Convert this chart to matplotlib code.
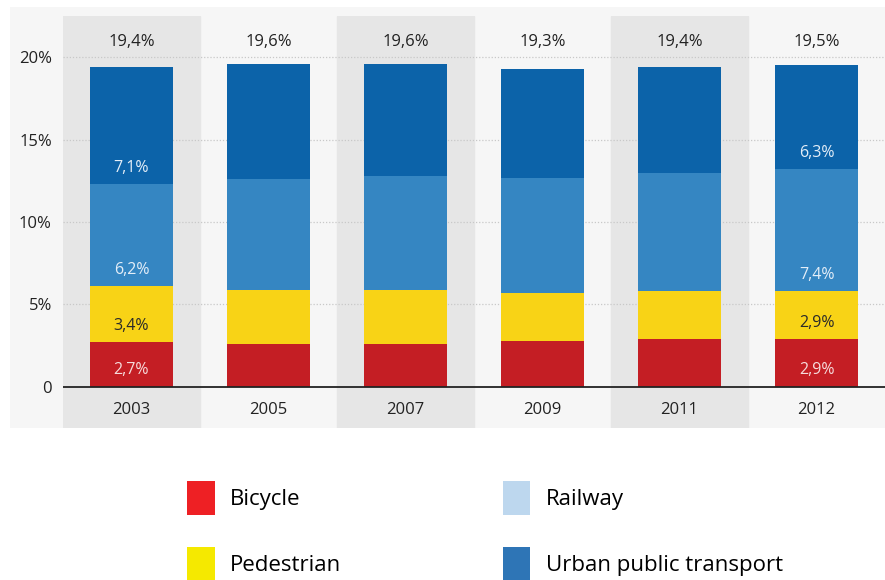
import numpy as np
import matplotlib.pyplot as plt
from matplotlib.patches import Patch, Rectangle

# data (share of trips, %)
years = ["2003", "2005", "2007", "2009", "2011", "2012"]
bicycle = [2.7, 2.6, 2.6, 2.8, 2.9, 2.9]
pedestrian = [3.4, 3.3, 3.3, 2.9, 2.9, 2.9]
railway = [6.2, 6.7, 6.9, 7.0, 7.2, 7.4]
urban = [7.1, 7.0, 6.8, 6.6, 6.4, 6.3]
totals = ["19,4%", "19,6%", "19,6%", "19,3%", "19,4%", "19,5%"]
yticks = [0, 5, 10, 15, 20]
ytick_labels = ["0", "5%", "10%", "15%", "20%"]
# segment labels only shown on first and last bar
seg_labels = {
    0: ["2,7%", "3,4%", "6,2%", "7,1%"],
    5: ["2,9%", "2,9%", "7,4%", "6,3%"],
}

series = [bicycle, pedestrian, railway, urban]
bar_colors = ["#C41E24", "#F8D316", "#3586C2", "#0C63A9"]
label_colors = ["#F6DCDC", "#2A2A2A", "#E4EEF8", "#E4EEF8"]
# legend fills column by column
legend_names = ["Bicycle", "Pedestrian", "Railway", "Urban public transport"]
legend_colors = ["#EE2024", "#F5E900", "#BDD7EE", "#2E75B6"]

plt.rcParams["font.family"] = ["Open Sans", "DejaVu Sans"]

W, H = 885, 580
fig = plt.figure(figsize=(W / 100, H / 100), dpi=100)
fig.patch.set_facecolor("white")

# light grey panel behind the chart
fig.patches.append(Rectangle((10 / W, 1 - 428 / H), 875 / W, 421 / H,
                             transform=fig.transFigure, facecolor="#F6F6F6",
                             edgecolor="none", zorder=-5))

ax = fig.add_axes([63 / W, 1 - 428 / H, 822 / W, 412 / H])
ax.set_facecolor("#F6F6F6")
ax.set_xlim(-0.5, len(years) - 0.5)
ax.set_ylim(-2.5, 22.5)

x = np.arange(len(years))
for i in x[::2]:
    ax.axvspan(i - 0.5, i + 0.5, color="#E6E6E6", zorder=0)

for yv in yticks[1:]:
    ax.axhline(yv, color="#C8C8C8", lw=0.9, ls=(0, (1, 1.5)), zorder=1)

bottom = np.zeros(len(years))
for k, vals in enumerate(series):
    vals = np.array(vals)
    ax.bar(x, vals, width=0.6, bottom=bottom, color=bar_colors[k],
           edgecolor="none", zorder=2)
    for i, labs in seg_labels.items():
        ax.text(x[i], bottom[i] + 1.0, labs[k], ha="center", va="center",
                fontsize=11.5, color=label_colors[k], zorder=3)
    bottom += vals

for i, t in enumerate(totals):
    ax.text(x[i], 20.9, t, ha="center", va="center", fontsize=12, color="#222222")
    ax.text(x[i], -1.4, years[i], ha="center", va="center", fontsize=12, color="#222222")

ax.axhline(0, color="#222222", lw=1.3, zorder=4)

ax.set_xticks([])
ax.set_yticks(yticks)
ax.set_yticklabels(ytick_labels, fontsize=12, color="#222222")
ax.tick_params(axis="y", length=0, pad=8)
for s in ax.spines.values():
    s.set_visible(False)

handles = [Patch(facecolor=c, edgecolor="none") for c in legend_colors]
fig.legend(handles, legend_names, ncol=2, loc="upper left",
           bbox_to_anchor=(187 / W, 1 - 481 / H), frameon=False,
           fontsize=16, handlelength=1.25, handleheight=1.98,
           handletextpad=0.7, labelspacing=1.45, columnspacing=7.25,
           borderpad=0, borderaxespad=0)

fig.savefig("out.png", dpi=100, facecolor="white")
